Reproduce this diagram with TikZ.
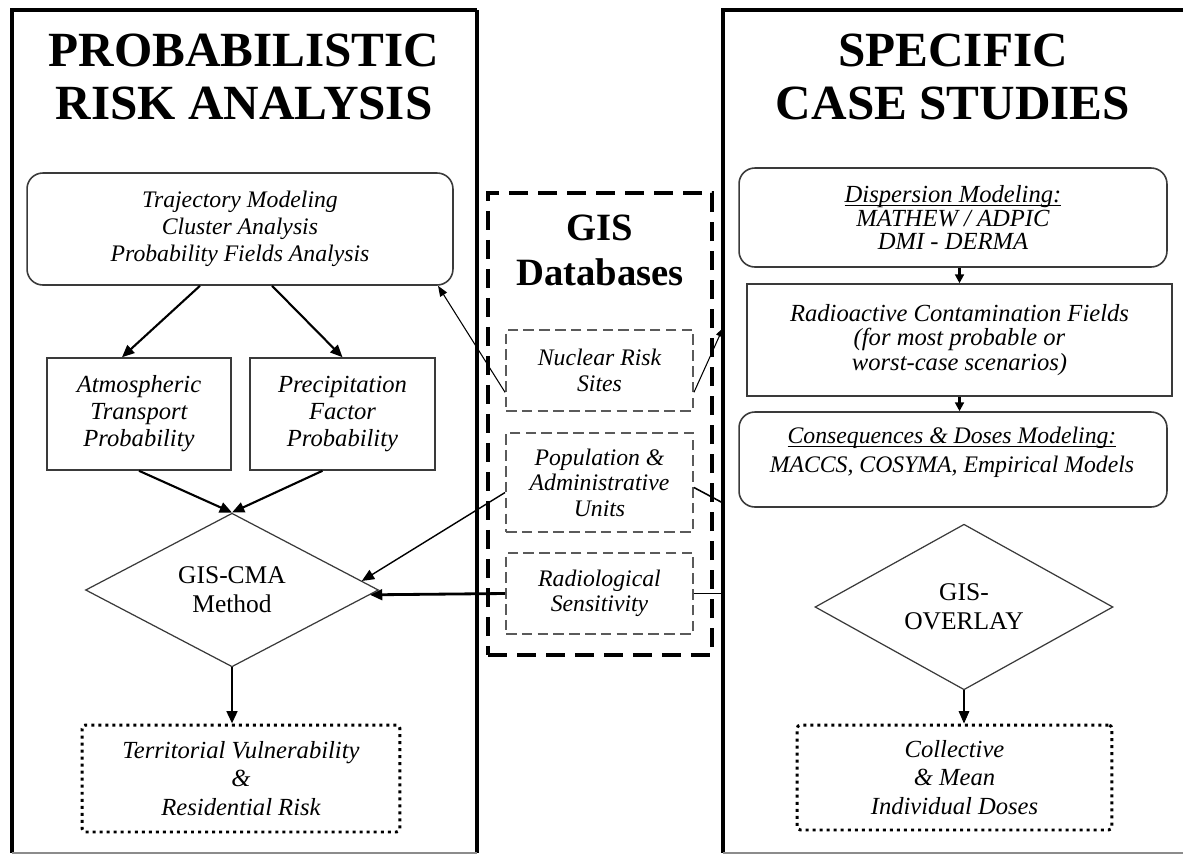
\documentclass[tikz,border=0pt]{standalone}
\usepackage{fontspec}
\setmainfont{Liberation Serif}
\usepackage{xcolor}
\usepackage{tikz}
\usetikzlibrary{calc,positioning,arrows.meta,shapes.geometric}
\definecolor{figLine}{HTML}{3A3A3A}
\definecolor{figGray}{HTML}{5A5A5A}
\definecolor{figEdge}{HTML}{8C8C8C}
\newcommand{\ulined}[1]{\setbox0\hbox{#1}\rlap{\rule[-2pt]{\wd0}{0.5pt}}\box0}

\begin{document}
\begin{tikzpicture}[
  x=0.02cm, y=-0.02cm,
  >={Triangle[length=7pt,width=6pt]},
  every node/.style={text=black},
  wall/.style={line width=2.3pt},
  floor/.style={line width=1.2pt, figEdge},
  heading/.style={font=\fontsize{28}{30}\selectfont\bfseries, align=center},
  method/.style={draw=figLine, line width=0.9pt, rounded corners=9pt, align=center,
    font=\fontsize{13.5}{15.4}\selectfont\itshape},
  factor/.style={draw=figLine, line width=0.9pt, align=center,
    font=\fontsize{14}{15.4}\selectfont\itshape},
  dbitem/.style={draw=figGray, line width=1.1pt, dash pattern=on 6pt off 3pt,
    align=center, minimum width=3.74cm, font=\fontsize{13.5}{14.5}\selectfont\itshape},
  decision/.style={diamond, draw=figLine, line width=0.7pt, inner sep=0pt, align=center,
    font=\fontsize{14.5}{16.5}\selectfont},
  outcome/.style={draw, line width=1.7pt, dash pattern=on 1.7pt off 2.3pt, rounded corners=2pt,
    align=center, font=\fontsize{14}{16}\selectfont\itshape},
  link/.style={->, line width=1.2pt},
  thinlink/.style={line width=0.6pt},
]
\useasboundingbox (0,0) rectangle (1183,856);

% Panels
\draw[wall] (477,10) -- (12,10) -- (12,853);
\draw[wall] (477,10) -- (477,853);
\draw[floor] (12,853) -- (477,853);
\draw[wall] (1190,10) -- (723,10) -- (723,853);
\draw[floor] (723,853) -- (1190,853);

% Headings
\node[heading] (probtitle) at (244,77) {PROBABILISTIC\\RISK ANALYSIS};
\node[heading] (casetitle) at (953,77) {SPECIFIC\\CASE STUDIES};

% Probabilistic risk analysis chain
\node[method, minimum width=8.52cm, minimum height=2.24cm] (traj) at (240,229)
  {Trajectory Modeling\\Cluster Analysis\\Probability Fields Analysis};
\node[factor, minimum width=3.68cm, minimum height=2.24cm] (atmos) at (139,414)
  {Atmospheric\\Transport\\Probability};
\node[factor, minimum width=3.7cm, minimum height=2.24cm] (precip) at (342.5,414)
  {Precipitation\\Factor\\Probability};
\node[decision, minimum width=5.86cm, minimum height=2.52cm] (cma) at (232,590)
  {GIS-CMA\\Method};
\node[outcome, minimum width=6.36cm, minimum height=2.14cm] (territ) at (241,778.5)
  {Territorial Vulnerability\\\&\\Residential Risk};

\draw[link] ($(traj.south)+(-40,0)$) -- ($(atmos.north)+(-17,0)$);
\draw[link] ($(traj.south)+(32,0)$) -- (precip.north);
\draw[link] (atmos.south) -- (cma.north);
\draw[link] ($(precip.south)+(-20,0)$) -- (cma.north);
\draw[link, line width=1.5pt] (cma.south) -- (cma.south |- territ.north);

% GIS databases
\node[draw, line width=2.3pt, dash pattern=on 11pt off 5.5pt,
  minimum width=4.48cm, minimum height=9.24cm] (gisdb) at (600,424) {};
\node[font=\fontsize{22}{25.6}\selectfont\bfseries, align=center] (gistitle) at (600,250)
  {GIS\\Databases};
\node[dbitem, minimum height=1.62cm] (nuclear) at (599.5,370.5) {Nuclear Risk\\Sites};
\node[dbitem, minimum height=1.98cm] (popul) at (599.5,482.5)
  {Population \&\\Administrative\\Units};
\node[dbitem, minimum height=1.62cm] (radio) at (599.5,593.5) {Radiological\\Sensitivity};

\coordinate (toContam) at (723,328);
\coordinate (toConseq) at (723,503);
\coordinate (toOverlay) at (723,593.5);

\draw[thinlink, ->, >={Triangle[length=6pt,width=4.5pt]}] (nuclear.193) -- (traj.-16);
\draw[thinlink, ->, >={Triangle[length=5pt,width=4pt]}] (nuclear.-13) -- (toContam);
\draw[link, line width=0.8pt] (popul.west) ++(0,10) -- (cma.4);
\draw[link, line width=1.6pt] (radio.west) -- (cma.-2);
\draw[thinlink, line width=0.9pt] (popul.east) ++(0,5) -- (toConseq);
\draw[thinlink, line width=1.1pt] (radio.east) -- (toOverlay);

% Specific case studies chain
\node[method, font=\fontsize{14}{13.2}\selectfont\itshape,
  minimum width=8.56cm, minimum height=1.98cm] (disp) at (953,217.5)
  {\ulined{Dispersion Modeling:}\\MATHEW / ADPIC\\DMI - DERMA};
\node[factor, font=\fontsize{14}{14}\selectfont\itshape,
  minimum width=8.5cm, minimum height=2.24cm] (contam) at (959.5,340)
  {Radioactive Contamination Fields\\(for most probable or\\worst-case scenarios)};
\node[method, minimum width=8.56cm, minimum height=1.9cm] (conseq) at (953,459.5) {};
\node[font=\fontsize{13.5}{16.5}\selectfont\itshape, align=center] (conseqtext) at (952,452.5)
  {\ulined{Consequences \& Doses Modeling:}\\MACCS, COSYMA, Empirical Models};
\node[decision, minimum width=5.96cm, minimum height=2.54cm] (overlay) at (964,607)
  {GIS-\\OVERLAY};
\node[outcome, minimum width=6.3cm, minimum height=2.1cm] (collect) at (954.5,777.5)
  {Collective\\\& Mean\\Individual Doses};

\draw[link, >={Triangle[length=5pt,width=5pt]}] (contam.north |- disp.south) -- (contam.north);
\draw[link, >={Triangle[length=5pt,width=5pt]}] (contam.south) -- (contam.south |- conseq.north);
\draw[thinlink, ->] (overlay.south) -- (overlay.south |- collect.north);
\end{tikzpicture}
\end{document}
